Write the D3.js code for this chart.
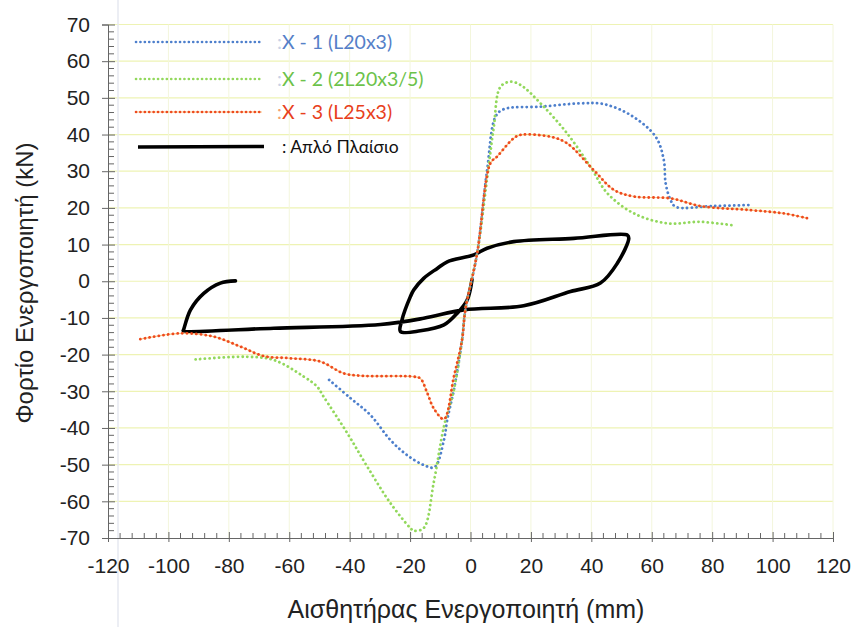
<!DOCTYPE html>
<html><head><meta charset="utf-8">
<script src="https://cdn.jsdelivr.net/npm/d3@7"></script>
<style>
html,body{margin:0;padding:0;background:#fff;}
svg{display:block;}
</style></head>
<body>
<svg id="chart" width="854" height="627"></svg>
<script>
// ---- data ----
const xTicks = [-120,-100,-80,-60,-40,-20,0,20,40,60,80,100,120];
const yTicks = [-70,-60,-50,-40,-30,-20,-10,0,10,20,30,40,50,60,70];

const legendLabels = ["X - 1 (L20x3)", "X - 2 (2L20x3/5)", "X - 3 (L25x3)", "Απλό Πλαίσιο"];

const x1 = [-46.8,-39.7,-33.1,-26.5,-21,-15.5,-11.9,-8.8,-7.7,-5.5,-2.8,-1.7,2.2,5.5,8.3,11,23.2,36.4,44.1,53,61.3,64,64.6,66.2,67.9,80,93.3];
const y1 = [-26.9,-31.9,-36.5,-43.3,-47.4,-50.1,-50.7,-43.3,-37.8,-29.6,-16,-7.8,7.6,30.3,44.9,46.9,47.6,48.5,48.3,45.3,39.4,33,26.7,22.2,20.3,20.5,20.8];

const x2 = [-91,-74,-65,-55.2,-50.8,-48.6,-40.8,-34.2,-26.5,-19.9,-18.8,-15.5,-12.2,-8.8,-5.5,-2.8,-1.7,2.2,5.5,7.7,9.9,13.2,16.6,23.2,32,39.7,45.3,54.1,65.1,76.2,87.2];
const y2 = [-21.3,-20.6,-21.5,-26,-28.7,-31.5,-41.4,-50.5,-60.5,-67.3,-68,-67.3,-55,-39.6,-29.6,-16,-7.8,7.6,28,42,53,54.4,53.5,48.5,40.3,31.2,24,18.5,15.8,16.2,15.2];

const x3 = [-109.3,-96,-85,-76.2,-68.4,-59.6,-49.7,-42,-35.3,-18.8,-16.6,-14.3,-12.2,-8.8,-5.5,-2.8,-1.7,2.2,6.6,8.8,14.3,16.6,26.5,32,40.8,47.5,54.1,66.2,76.2,92.7,103.7,111.4];
const y3 = [-15.8,-14.2,-15.1,-17.8,-20.4,-21,-21.9,-25.1,-25.8,-26,-26.5,-30.5,-34.6,-37.6,-26,-16,-7.8,7.6,32.2,34,39,39.9,39.4,37.6,30.3,24.9,23.1,22.6,20.5,19.4,18.5,17.2];

const x4 = [0.5,-1.1,-4.4,-8.8,-16.6,-23.2,-22.7,-19.9,-18.8,-15.5,-11,-7.7,1.1,5.5,14.3,34.2,51.9,52.4,48.6,43,33.1,17.6,-2.2,-15.5,-29.8,-65.1,-95.1,-95,-92.7,-88.3,-82.8,-77.8];
const y4 = [0.5,-5.1,-8.7,-11.9,-13.5,-13.7,-10.6,-4.2,-2.4,0.8,3.5,5.3,7.2,9,10.8,11.7,12.6,11.7,4.9,-0.5,-2.8,-6.7,-7.8,-10.1,-11.8,-12.8,-13.5,-13.3,-7.8,-3.3,-0.5,0.1];

const colors = ["#4d7fcc", "#92d85c", "#ee4a1e", "#000000"];

// ---- chart ----
const svg = d3.select("#chart");
const L = 108, R = 833, T = 24.5, B = 538;
const x = d3.scaleLinear().domain([-120,120]).range([L,R]);
const y = d3.scaleLinear().domain([-70,70]).range([B,T]);

// grid
const g = svg.append("g");
g.selectAll(".hg").data(yTicks.filter(d=>d>-70)).enter().append("line")
  .attr("x1",L).attr("x2",R).attr("y1",d=>y(d)).attr("y2",d=>y(d))
  .attr("stroke","#eef3b4").attr("stroke-width",1.2);
g.selectAll(".vg").data(xTicks.filter(d=>d>-120)).enter().append("line")
  .attr("x1",d=>x(d)).attr("x2",d=>x(d)).attr("y1",T).attr("y2",B)
  .attr("stroke","#f3f6dc").attr("stroke-width",1);
// scanner artifact line
svg.append("line").attr("x1",118).attr("x2",118).attr("y1",0).attr("y2",627)
  .attr("stroke","#e6e9f1").attr("stroke-width",1.5);

// axes
const axisColor = "#666";
const fmt = d => String(d);
const yAxis = d3.axisLeft(y).tickValues(yTicks).tickSize(6).tickPadding(12).tickFormat(fmt);
const yg = svg.append("g").attr("transform",`translate(${L},0)`).call(yAxis);
const xAxis = d3.axisBottom(x).tickValues(xTicks).tickSize(4).tickPadding(16).tickFormat(fmt);
const xg = svg.append("g").attr("transform",`translate(0,${B})`).call(xAxis);
[yg,xg].forEach(a=>{
  a.select(".domain").attr("stroke",axisColor);
  a.selectAll(".tick line").attr("stroke",axisColor);
  a.selectAll(".tick text").attr("font-family","'Liberation Sans', Arial, sans-serif").attr("font-size",21).attr("fill","#222");
});
// major tick extensions inside
yg.selectAll(".tick").append("line").attr("x1",0).attr("x2",7).attr("stroke",axisColor);
xg.selectAll(".tick").append("line").attr("y1",0).attr("y2",-6).attr("stroke",axisColor);
// minor ticks
const yMinor = d3.range(-70,70.01,2).filter(d=>d%10!==0);
svg.selectAll(".ym").data(yMinor).enter().append("line")
  .attr("x1",L).attr("x2",L+6).attr("y1",d=>y(d)).attr("y2",d=>y(d)).attr("stroke",axisColor);
const xMinor = d3.range(-120,120.01,4).filter(d=>d%20!==0);
svg.selectAll(".xm").data(xMinor).enter().append("line")
  .attr("y1",B).attr("y2",B-5).attr("x1",d=>x(d)).attr("x2",d=>x(d)).attr("stroke",axisColor);

// titles
svg.append("text").attr("transform",`translate(33,283) rotate(-90)`)
  .attr("text-anchor","middle").attr("font-family","'Liberation Sans', Arial, sans-serif")
  .attr("font-size",24).attr("fill","#222").text("Φορτίο Ενεργοποιητή (kN)");
svg.append("text").attr("x",466).attr("y",618)
  .attr("text-anchor","middle").attr("font-family","'Liberation Sans', Arial, sans-serif")
  .attr("font-size",25).attr("fill","#222").text("Αισθητήρας Ενεργοποιητή (mm)");

// series
const line = d3.line().x(d=>x(d[0])).y(d=>y(d[1])).curve(d3.curveCatmullRom.alpha(0.5));
const series = [[x1,y1],[x2,y2],[x3,y3]];
const plot = svg.append("g");
// black frame curve
plot.append("path").datum(x4.map((v,i)=>[v,y4[i]])).attr("d",line)
  .attr("fill","none").attr("stroke","#000").attr("stroke-width",3.6)
  .attr("stroke-linejoin","round").attr("stroke-linecap","round");
series.forEach((s,k)=>{
  const pts = s[0].map((v,i)=>[v,s[1][i]]);
  if(k===2){
    plot.append("path").datum(pts).attr("d",line).attr("fill","none")
      .attr("stroke","#f7a640").attr("stroke-width",1.2).attr("stroke-opacity",0.6);
  }
  plot.append("path").datum(pts).attr("d",line).attr("fill","none")
    .attr("stroke",colors[k]).attr("stroke-width",2.8)
    .attr("stroke-dasharray","0.1,4.6").attr("stroke-linecap","round");
});

// legend
const legY = [42,79,112,147];
const leg = svg.append("g");
legY.forEach((ly,i)=>{
  if(i<3){
    if(i===2){
      leg.append("line").attr("x1",136).attr("x2",262).attr("y1",ly).attr("y2",ly)
        .attr("stroke","#f7a640").attr("stroke-width",1.2).attr("stroke-opacity",0.6);
    }
    leg.append("line").attr("x1",136).attr("x2",262).attr("y1",ly).attr("y2",ly)
      .attr("stroke",colors[i]).attr("stroke-width",2.6)
      .attr("stroke-dasharray","0.1,4.3").attr("stroke-linecap","round");
    const t = leg.append("text").attr("x",277).attr("y",ly+7)
      .attr("font-family","Lato, 'Open Sans', sans-serif").attr("font-size",19.5);
    t.append("tspan").attr("fill",i===2?"#f5a070":"#c8d2e6").text(":");
    t.append("tspan").attr("fill",i===0?"#5580c8":i===1?"#6cc24a":"#e8401c").text(legendLabels[i]);
  } else {
    leg.append("line").attr("x1",138).attr("x2",264).attr("y1",ly).attr("y2",ly-0.5)
      .attr("stroke","#000").attr("stroke-width",3.5);
    leg.append("text").attr("x",282).attr("y",ly+6)
      .attr("font-family","Lato, 'Open Sans', sans-serif").attr("font-size",17.5)
      .attr("fill","#111").text(": " + legendLabels[i]);
  }
});
</script>
</body></html>
